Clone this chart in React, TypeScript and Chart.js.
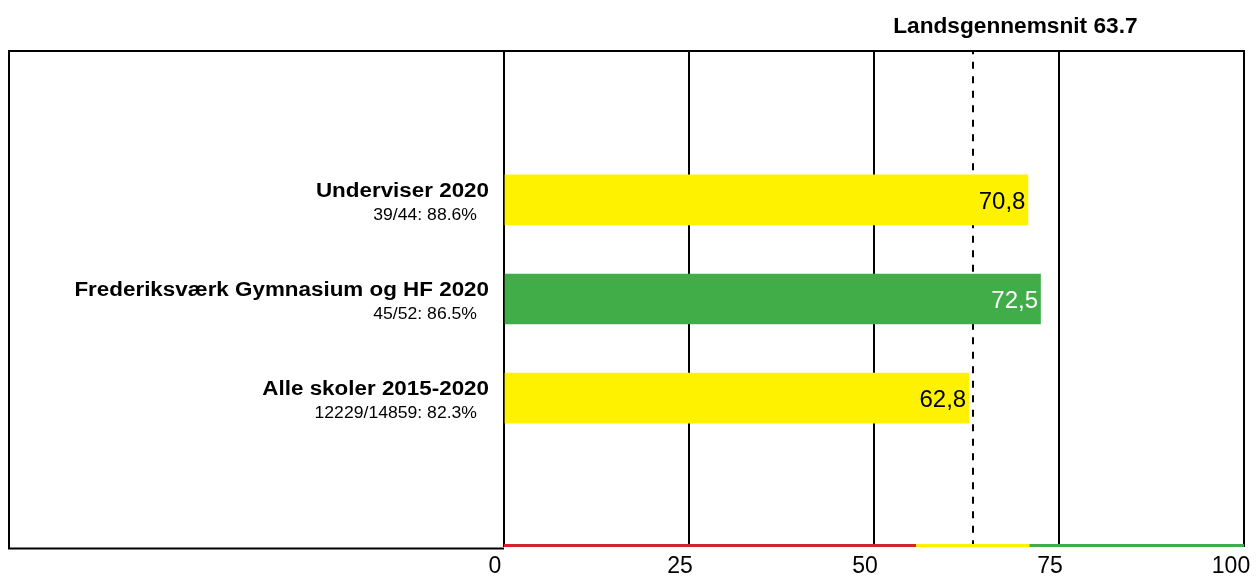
import React, { useEffect, useRef } from "react";
import { Chart, registerables } from "chart.js";

Chart.register(...registerables);

// ---- data ----
const categories = ["", "Underviser 2020", "Frederiksværk Gymnasium og HF 2020", "Alle skoler 2015-2020", ""];
const subLabels = ["", "39/44: 88.6%", "45/52: 86.5%", "12229/14859: 82.3%", ""];
const values: (number | null)[] = [null, 70.8, 72.5, 62.8, null];
const barColors = ["#FFF200", "#FFF200", "#40AD49", "#FFF200", "#FFF200"];
const valueTextColors = ["#000000", "#000000", "#FFFFFF", "#000000", "#000000"];
const xTicks = [0, 25, 50, 75, 100];
const average = 63.7;
const averageTitle = "Landsgennemsnit 63.7";
const zoneBreaks = [0, 55.7, 71, 100];
const zoneColors = ["#D2232A", "#FFF200", "#40AD49"];

const FONT = "'Liberation Sans', Arial, sans-serif";

function drawText(
  ctx: CanvasRenderingContext2D,
  text: string,
  x: number,
  y: number,
  font: string,
  color: string,
  align: CanvasTextAlign,
  sx = 1
) {
  ctx.save();
  ctx.font = font;
  ctx.fillStyle = color;
  ctx.textAlign = align;
  ctx.textBaseline = "alphabetic";
  ctx.translate(x, y);
  ctx.scale(sx, 1);
  ctx.fillText(text, 0, 0);
  ctx.restore();
}

const decorPlugin = {
  id: "decor",
  beforeDatasetsDraw(chart: any) {
    const { ctx, chartArea, scales } = chart;
    const x = Math.round(scales.x.getPixelForValue(average) - 2);
    ctx.save();
    ctx.strokeStyle = "#000";
    ctx.lineWidth = 2;
    ctx.setLineDash([7, 7.5]);
    ctx.lineDashOffset = 3.8;
    ctx.beginPath();
    ctx.moveTo(x, chartArea.top);
    ctx.lineTo(x, chartArea.bottom);
    ctx.stroke();
    ctx.restore();
  },
  afterDatasetsDraw(chart: any) {
    const { ctx, chartArea, scales } = chart;
    const meta = chart.getDatasetMeta(0);
    meta.data.forEach((bar: any, i: number) => {
      const v = values[i];
      const yc = scales.y.getPixelForValue(i);
      if (categories[i]) {
        drawText(ctx, categories[i], chartArea.left - 15, yc - 3, `bold 20px ${FONT}`, "#000", "right", 1.12);
        drawText(ctx, subLabels[i], chartArea.left - 27, yc + 20, `16px ${FONT}`, "#000", "right", 1.1);
      }
      if (v === null || v === undefined) return;
      const label = v.toFixed(1).replace(".", ",");
      drawText(ctx, label, bar.x - 2.5, bar.y + 9, `24px ${FONT}`, valueTextColors[i], "right");
    });
  },
  afterDraw(chart: any) {
    const { ctx, chartArea, scales } = chart;
    const xs = scales.x;
    ctx.save();
    // frame
    ctx.strokeStyle = "#000";
    ctx.lineWidth = 2;
    ctx.beginPath();
    ctx.moveTo(chartArea.right + 1, chartArea.top);
    ctx.lineTo(9, chartArea.top);
    ctx.lineTo(9, chartArea.bottom + 1.5);
    ctx.lineTo(chartArea.left, chartArea.bottom + 1.5);
    ctx.stroke();
    // coloured zone line
    ctx.lineWidth = 3;
    for (let i = 0; i < zoneColors.length; i++) {
      ctx.strokeStyle = zoneColors[i];
      ctx.beginPath();
      ctx.moveTo(xs.getPixelForValue(zoneBreaks[i]), chartArea.bottom - 1.5);
      ctx.lineTo(xs.getPixelForValue(zoneBreaks[i + 1]), chartArea.bottom - 1.5);
      ctx.stroke();
    }
    ctx.restore();
    // tick labels
    xTicks.forEach((t, i) => {
      const off = i === xTicks.length - 1 ? -13 : -9;
      drawText(ctx, String(t), xs.getPixelForValue(t) + off, chartArea.bottom + 26, `23px ${FONT}`, "#000", "center");
    });
    // title
    drawText(ctx, averageTitle, xs.getPixelForValue(average) + 40, 33, `bold 22px ${FONT}`, "#000", "center", 1.03);
  },
};

export default function App() {
  const ref = useRef<HTMLCanvasElement | null>(null);
  useEffect(() => {
    if (!ref.current) return;
    const chart = new Chart(ref.current, {
      type: "bar",
      data: {
        labels: categories,
        datasets: [
          {
            data: values as any,
            backgroundColor: barColors,
            borderWidth: 0,
            barThickness: 50,
          },
        ],
      },
      options: {
        indexAxis: "y",
        animation: false,
        responsive: false,
        devicePixelRatio: 1,
        layout: { padding: { top: 51, right: 12, bottom: 30, left: 0 } },
        plugins: { legend: { display: false }, tooltip: { enabled: false }, title: { display: false } },
        scales: {
          x: {
            type: "linear",
            min: 0,
            max: 100,
            ticks: { stepSize: 25, display: false },
            grid: { color: "#000", lineWidth: 2, drawTicks: false },
            border: { display: false },
            afterFit: (s: any) => {
              s.height = 0;
            },
          },
          y: {
            type: "category",
            ticks: { display: false },
            grid: { display: false, drawTicks: false },
            border: { display: false },
            afterFit: (s: any) => {
              s.width = 504;
            },
          },
        },
      },
      plugins: [decorPlugin],
    });
    return () => chart.destroy();
  }, []);
  return (
    <div style={{ position: "fixed", left: 0, top: 0, width: 1256, height: 577, background: "#fff" }}>
      <canvas ref={ref} width={1256} height={577} style={{ width: 1256, height: 577, display: "block" }} />
    </div>
  );
}
